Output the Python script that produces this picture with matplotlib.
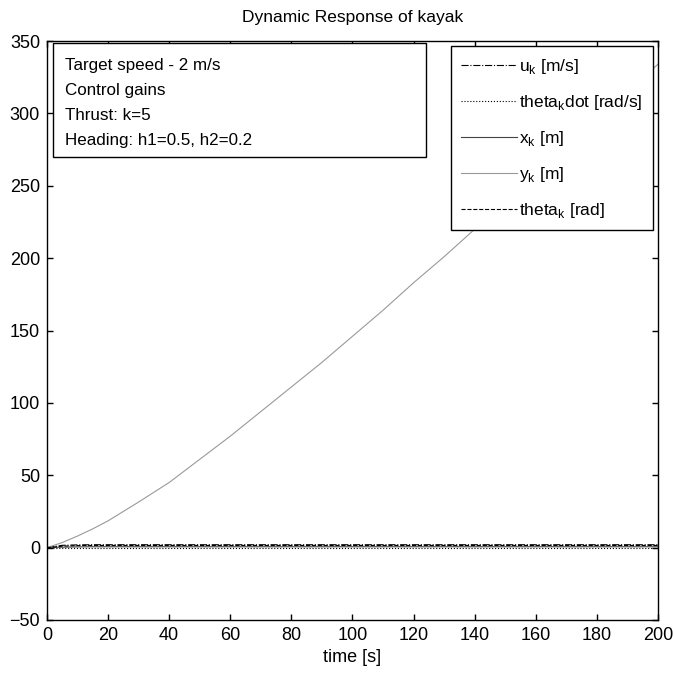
import matplotlib
matplotlib.use('Agg')
import matplotlib.pyplot as plt
from matplotlib.patches import Rectangle

plt.rcParams['font.family'] = ['Liberation Sans', 'DejaVu Sans']
plt.rcParams['mathtext.fontset'] = 'custom'
plt.rcParams['mathtext.rm'] = 'Liberation Sans'

# time samples [s]
time_s = [0, 5, 10, 15, 20, 30, 40, 50, 60, 70, 80, 90, 100, 110,
          120, 130, 140, 150, 160, 170, 180, 190, 200]
# states
u_k = [0, 1.6, 1.9, 2.0, 2.0, 2.0, 2.0, 2.0, 2.0, 2.0, 2.0, 2.0, 2.0, 2.0,
       2.0, 2.0, 2.0, 2.0, 2.0, 2.0, 2.0, 2.0, 2.0]
theta_dot = [0] * len(time_s)
x_k = [0, 0.3, 0.5, 0.6, 0.6, 0.6, 0.6, 0.6, 0.6, 0.6, 0.6, 0.6, 0.6, 0.6,
       0.6, 0.6, 0.6, 0.6, 0.6, 0.6, 0.6, 0.6, 0.6]
y_k = [0, 3.5, 8, 13, 18.5, 31.5, 45, 61, 77, 94, 111, 128, 146, 164,
       183, 201, 220, 239, 258, 277, 296, 315, 334]
theta_k = [0, 1.0, 1.4, 1.5, 1.5, 1.5, 1.5, 1.5, 1.5, 1.5, 1.5, 1.5, 1.5, 1.5,
           1.5, 1.5, 1.5, 1.5, 1.5, 1.5, 1.5, 1.5, 1.5]

info_lines = ['Target speed - 2 m/s', 'Control gains', 'Thrust: k=5',
              'Heading: h1=0.5, h2=0.2']

fig = plt.figure(figsize=(6.73, 6.77), dpi=100)
ax = fig.add_axes([0.0698, 0.0842, 0.9079, 0.8552])

ax.plot(time_s, u_k, color='black', lw=0.8, ls='-.', label=r'u$_\mathrm{k}$ [m/s]')
ax.plot(time_s, theta_dot, color='black', lw=0.8, ls=':', label=r'theta$_\mathrm{k}$dot [rad/s]')
ax.plot(time_s, x_k, color='#444444', lw=0.8, ls='-', label=r'x$_\mathrm{k}$ [m]')
ax.plot(time_s, y_k, color='#999999', lw=0.8, ls='-', label=r'y$_\mathrm{k}$ [m]')
ax.plot(time_s, theta_k, color='black', lw=0.8, ls='--', label=r'theta$_\mathrm{k}$ [rad]')

ax.set_xlim(0, 200)
ax.set_ylim(-50, 350)
ax.set_xticks(range(0, 201, 20))
ax.set_yticks(range(-50, 351, 50))
ax.tick_params(direction='in', length=4.5, width=1.0, labelsize=13, pad=5,
               top=True, right=True)
for sp in ax.spines.values():
    sp.set_linewidth(1.0)

ax.set_title('Dynamic Response of kayak', fontsize=12.5, pad=14)
ax.set_xlabel('time [s]', fontsize=13, labelpad=4)

leg = ax.legend(loc='upper right', fontsize=12.5, handlelength=3.2, handletextpad=0.12,
                labelspacing=0.98, borderpad=0.6, borderaxespad=0.3, fancybox=False,
                framealpha=1, edgecolor='black', bbox_to_anchor=(1, 1))
leg.get_frame().set_linewidth(1.0)

# annotation box
ax.add_patch(Rectangle((0.0098, 0.7997), 0.6102, 0.1968, transform=ax.transAxes,
                       fc='white', ec='black', lw=1.0, zorder=5))
for i, line in enumerate(info_lines):
    ax.text(0.0295, 0.9585 - i * 0.0432, line, transform=ax.transAxes, fontsize=12.25,
            va='center', ha='left', zorder=6)

fig.savefig('out.png', dpi=100)
